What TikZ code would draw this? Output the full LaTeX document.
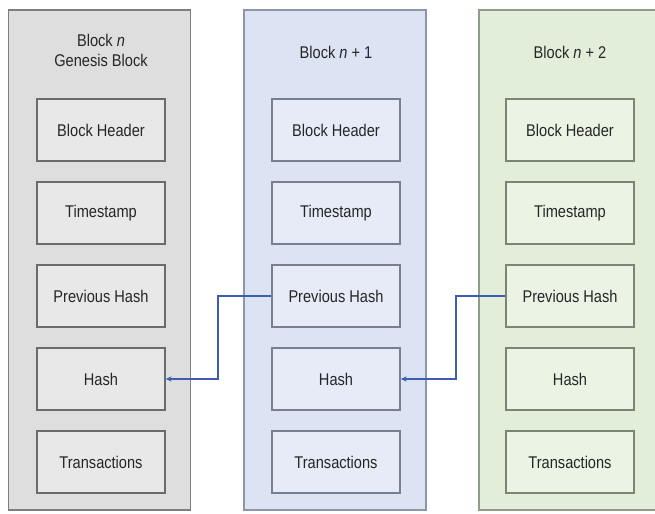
\documentclass[tikz,border=0pt]{standalone}
\usepackage{fontspec}
\setmainfont[FakeStretch=0.86]{Liberation Sans}
\usetikzlibrary{positioning,arrows.meta}
\definecolor{gBg}{HTML}{DEDEDE}
\definecolor{gLn}{HTML}{7E7E7E}
\definecolor{bBg}{HTML}{DCE3F3}
\definecolor{bLn}{HTML}{8C95AA}
\definecolor{vBg}{HTML}{E3EEDA}
\definecolor{vLn}{HTML}{8F9D86}
\definecolor{cL}{HTML}{3D5DB5}
\begin{document}
\begin{tikzpicture}[x=0.3mm,y=-0.3mm,font=\fontsize{14.5}{17}\selectfont,
  chain/.style={draw,line width=1pt,minimum width=5.46cm,minimum height=15cm,inner sep=0pt},
  field/.style={draw,line width=1.4pt,minimum width=3.84cm,minimum height=1.86cm,inner sep=2pt},
  link/.style={cL,line width=1.7pt,-{Stealth[length=5pt,width=4.5pt]}}]
\useasboundingbox (0,0) rectangle (655,513);
% --- the three blocks ---
\node[chain,fill=gBg,draw=gLn] (b1) at (99.5,260) {};
\node[chain,fill=bBg,draw=bLn] (b2) at (335,260) {};
\node[chain,fill=vBg,draw=vLn] (b3) at (570,260) {};
\node[align=center,text=black!85] (b1-title) at (101,50) {Block \textit{n}\\Genesis Block};
\node[text=black!85] (b2-title) at (336,52) {Block \textit{n} + 1};
\node[text=black!85] (b3-title) at (570,52) {Block \textit{n} + 2};
% --- fields, one row per entry ---
\foreach \k/\x/\bg/\ln in {1/101/gBg/gLn,2/336/bBg/bLn,3/570/vBg/vLn}{
  \foreach \f/\t [count=\r from 0] in {hdr/Block Header,time/Timestamp,prev/Previous Hash,hash/Hash,tx/Transactions}{
    \node[field,fill=\bg!70!white,draw=\ln!85!black,text=black!85] (b\k-\f) at (\x,130+83*\r) {\t};
  }
}
% --- hash links back to the previous block ---
\draw[link] (b2-prev.west) -- ++(-53,0) |- (b1-hash.east);
\draw[link] (b3-prev.west) -- ++(-49,0) |- (b2-hash.east);
\end{tikzpicture}
\end{document}
